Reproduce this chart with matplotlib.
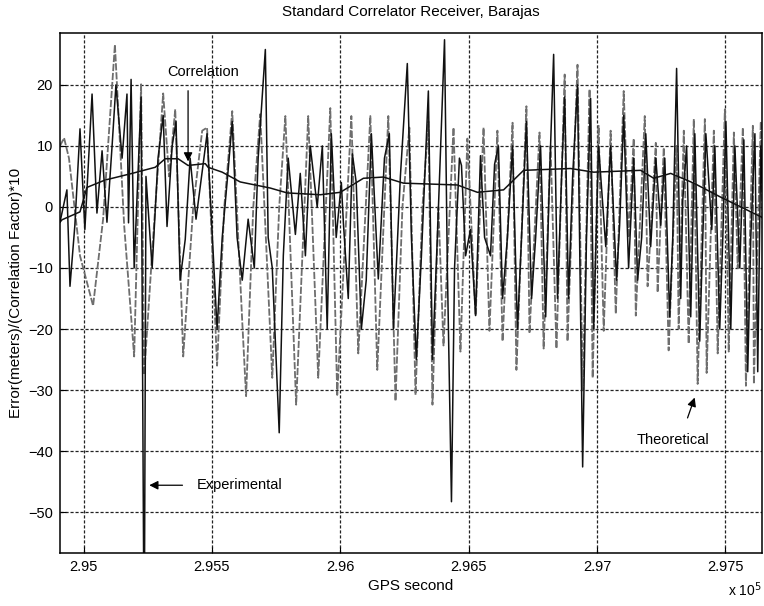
import matplotlib
matplotlib.use("Agg")
import matplotlib.pyplot as plt

FONT = ['Liberation Sans Narrow', 'Liberation Sans', 'DejaVu Sans']

# experimental error (GPS second, value)
exp_t = [294908, 294935, 294947, 294966, 294986, 295005, 295033, 295052, 295072, 295091,
         295111, 295126, 295150, 295169, 295175, 295185, 295197, 295224, 295236, 295243,
         295267, 295290, 295310, 295325, 295345, 295360, 295376, 295396, 295415, 295438,
         295481, 295520, 295540, 295563, 295579, 295598, 295618, 295641, 295665, 295680,
         295708, 295719, 295735, 295762, 295778, 295797, 295825, 295844, 295864, 295883,
         295910, 295930, 295949, 295965, 295984, 296004, 296012, 296031, 296047, 296062,
         296082, 296101, 296121, 296148, 296172, 296191, 296207, 296234, 296261, 296277,
         296296, 296316, 296343, 296359, 296378, 296406, 296417, 296433, 296445, 296464,
         296472, 296488, 296507, 296527, 296546, 296562, 296585, 296601, 296616, 296632,
         296651, 296671, 296690, 296706, 296725, 296745, 296761, 296780, 296800, 296815,
         296831, 296846, 296862, 296874, 296889, 296905, 296924, 296944, 296959, 296975,
         296987, 297006, 297034, 297053, 297076, 297088, 297104, 297123, 297143, 297158,
         297174, 297190, 297209, 297229, 297248, 297264, 297283, 297295, 297310, 297326,
         297334, 297349, 297365, 297381, 297400, 297412, 297424, 297447, 297459, 297478,
         297490, 297502, 297521, 297537, 297556, 297572, 297587, 297599, 297615, 297626,
         297638, 297646]
exp_v = [-2.5, 2.8, -13, -3, 12.8, -3.7, 18.5, -1, 9.2, -2.5,
         10, 20, 8, 18.5, -2.6, 20.9, -10, 18, -75, 5,
         -10, 8, 15, -3.2, 10, 14, -12, -5.3, 8, -2,
         12, -20, -5, 6, 14, -5, -12, -2, -10, 8,
         25.8, -5, -10, -37, -8, 8, -4.5, 5.5, -8, 10,
         0, 10, -20, 12, -5, 4, -2.6, -15, 8.7, 4,
         -20, -12, 12, -11.8, 8, 12, -20, 5, 23.5, -5,
         -25, -8, 19, -25, -5, 27.4, -10, -48.3, -10, 8,
         6.8, -8, -3.7, -17.8, 8.4, -5, -8, 7, 10, -15,
         -5, 10, -20, -5, 14, -15, -5, 10, -18, 5,
         25, -15, 5, 18, -15, 5, 20, -42.6, -5, 17.8,
         -20, 10, -6.5, 10, -12, -3, 15, -10, 8, -12,
         -5, 12, -6.5, 8, -3, 8, -18, -5, 22.7, -15,
         1.1, 10, -18, 12, -22, -5, 12, -3.7, 10, -20,
         -5, 14, -20, 10, -10, 11, -27, -5, 12, -27,
         10, 0]

# theoretical error
theo_t = [294908, 294924, 294943, 294986, 295037, 295076, 295122, 295158, 295197, 295224,
          295236, 295271, 295310, 295333, 295357, 295388, 295427, 295462, 295481, 295520,
          295548, 295579, 295618, 295633, 295661, 295688, 295735, 295762, 295786, 295828,
          295875, 295914, 295961, 295988, 296043, 296070, 296117, 296144, 296187, 296215,
          296242, 296269, 296293, 296320, 296343, 296359, 296382, 296402, 296441, 296468,
          296495, 296527, 296558, 296581, 296612, 296632, 296671, 296686, 296725, 296737,
          296776, 296792, 296819, 296842, 296874, 296885, 296924, 296944, 296971, 296983,
          297006, 297026, 297053, 297073, 297104, 297123, 297143, 297151, 297186, 297197,
          297229, 297236, 297260, 297279, 297310, 297318, 297338, 297357, 297377, 297392,
          297420, 297427, 297455, 297470, 297498, 297513, 297533, 297548, 297568, 297580,
          297607, 297611, 297638, 297646]
theo_v = [10, 11.3, 8, -8, -16.2, -2, 26.6, -3, -24.5, 20.1,
          -27.5, -5, 18.6, 5, 16, -24.5, 0, 12.5, 13, -26,
          0, 15.7, -18.8, -31, 0, 15.2, -28, 0, 14.9, -32.4,
          14.9, -28, 16.2, -30.8, 14.9, -24, 14.9, -26.7, 14.9, -31.8,
          0, 13, -30.8, 0, 14, -32.4, 0, -22.7, 13, -23.7,
          11.2, -17.8, 13, -20.3, 12.5, -22, 13.8, -26.7, 16.5, -20.7,
          12.2, -23.2, 10, -23.2, 21.7, -22, 23.3, -30, 19.3, -28,
          13.3, -20.3, 12.5, -17.5, 19, -5, 11.2, -17.8, 14.9, -13,
          10.5, -14, 9.7, -23.5, 10, -20, 12.5, -22.4, 14.4, -29,
          14.4, -27.2, 12.5, -24, 16, -23.7, 12.2, -10, 13, -29.3,
          13.3, -29, 14, -5]

# correlation factor * 10
corr_t = [294908, 294916, 294986, 295013, 295083, 295189, 295279, 295318, 295368, 295407,
          295474, 295485, 295540, 295610, 295727, 295793, 295922, 296000, 296090, 296168,
          296246, 296456, 296534, 296636, 296714, 296897, 296987, 297170, 297221, 297287,
          297377, 297482, 297560, 297638, 297646]
corr_v = [-2.5, -2.1, -0.8, 3.2, 4.4, 5.5, 6.5, 7.9, 7.9, 6.8,
          7.1, 6.5, 5.7, 4.1, 3.1, 2.3, 2.0, 2.4, 4.7, 4.9,
          3.9, 3.6, 2.4, 2.8, 6.0, 6.3, 5.7, 6.0, 4.7, 5.5,
          3.9, 1.6, 0.0, -1.6, -1.8]

xticks = [295000, 295500, 296000, 296500, 297000, 297500]
xtick_labels = ['2.95', '2.955', '2.96', '2.965', '2.97', '2.975']
yticks = [-50, -40, -30, -20, -10, 0, 10, 20]

fig = plt.figure(figsize=(7.64, 6.06), dpi=100)
ax = fig.add_axes([0.0785, 0.0875, 0.919, 0.858])

# theoretical drawn as a grey, slightly broken line like the scan
ax.plot(theo_t, theo_v, color='#6e6e6e', lw=1.3, linestyle=(0, (4, 1)))
ax.plot(exp_t, exp_v, color='#111111', lw=1.1)
ax.plot(corr_t, corr_v, color='#111111', lw=1.1)

ax.set_xlim(294908, 297643)
ax.set_ylim(-56.7, 28.5)
ax.set_xticks(xticks)
ax.set_xticklabels(xtick_labels)
ax.set_yticks(yticks)
ax.tick_params(direction='in', length=4, labelsize=10.5, pad=5)
for lab in ax.get_xticklabels() + ax.get_yticklabels():
    lab.set_family(FONT)
ax.grid(True, color='#222222', linestyle=(0, (2.5, 1.5)), linewidth=0.9)
for s in ax.spines.values():
    s.set_linewidth(1.1)

ax.set_title('Standard Correlator Receiver, Barajas', fontsize=11, family=FONT, pad=12)
ax.set_xlabel('GPS second', fontsize=11, family=FONT, labelpad=4)
ax.set_ylabel('Error(meters)/(Correlation Factor)*10', fontsize=11, family=FONT, labelpad=4)
fig.text(0.975, 0.012, r'x 10$^5$', fontsize=10, family=FONT, ha='center', va='bottom')

arrow = dict(arrowstyle='-|>', color='k', lw=0.9, mutation_scale=13)
ax.annotate('', xy=(295407, 7.0), xytext=(295407, 19.5), arrowprops=arrow)
ax.text(295466, 22.1, 'Correlation', fontsize=10.5, family=FONT, ha='center', va='center')
ax.annotate('', xy=(295245, -45.6), xytext=(295396, -45.6), arrowprops=arrow)
ax.text(295442, -45.6, 'Experimental', fontsize=10.5, family=FONT, ha='left', va='center')
ax.annotate('', xy=(297384, -30.8), xytext=(297349, -35.0), arrowprops=arrow)
ax.text(297295, -38.2, 'Theoretical', fontsize=10.5, family=FONT, ha='center', va='center')

fig.savefig('out.png', dpi=100)
